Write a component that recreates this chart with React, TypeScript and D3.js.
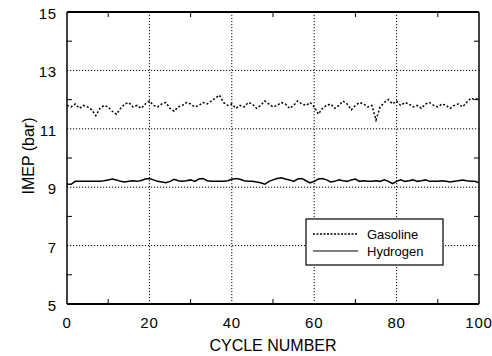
import React from "react";
import * as d3 from "d3";

// IMEP per cycle
const cycles = d3.range(0, 101);

const gasoline = [
  11.8, 11.75, 11.85, 11.7, 11.8, 11.75, 11.65, 11.45, 11.7, 11.8,
  11.75, 11.6, 11.5, 11.7, 11.85, 11.9, 11.75, 11.8, 11.7, 11.85,
  11.95, 11.8, 11.75, 11.85, 11.9, 11.7, 11.6, 11.75, 11.8, 11.9,
  11.85, 11.75, 11.8, 11.9, 11.85, 11.95, 12.05, 12.15, 11.9, 11.8,
  11.85, 11.7, 11.8, 11.75, 11.9, 11.85, 11.7, 11.8, 11.95, 11.85,
  11.75, 11.8, 11.9, 11.85, 11.7, 11.8, 11.95, 11.85, 11.8, 11.9,
  11.75, 11.5, 11.7, 11.8, 11.85, 11.7, 11.8, 11.95, 11.85, 11.65,
  11.8, 11.9, 11.85, 11.75, 11.8, 11.3, 11.75, 11.9, 12.0, 11.85,
  11.95, 11.8, 11.9, 11.85, 11.75, 11.8, 11.7, 11.85, 11.9, 11.8,
  11.75, 11.85, 11.8, 11.7, 11.8, 11.85, 11.75, 11.9, 12.05, 12.0, 12.05,
];

const hydrogen = [
  9.1, 9.1, 9.2, 9.2, 9.2, 9.2, 9.2, 9.2, 9.2, 9.22,
  9.25, 9.28, 9.25, 9.2, 9.18, 9.2, 9.22, 9.2, 9.23, 9.28,
  9.3, 9.25, 9.2, 9.18, 9.15, 9.2, 9.27, 9.22, 9.2, 9.22,
  9.25, 9.2, 9.28, 9.3, 9.22, 9.2, 9.2, 9.2, 9.2, 9.22,
  9.27, 9.3, 9.27, 9.22, 9.2, 9.2, 9.18, 9.15, 9.1, 9.2,
  9.25, 9.3, 9.32, 9.28, 9.25, 9.2, 9.28, 9.3, 9.22, 9.15,
  9.2, 9.28, 9.3, 9.25, 9.18, 9.2, 9.25, 9.22, 9.2, 9.25,
  9.28, 9.2, 9.22, 9.2, 9.2, 9.22, 9.2, 9.25, 9.2, 9.12,
  9.2, 9.25, 9.2, 9.22, 9.25, 9.2, 9.22, 9.25, 9.2, 9.2,
  9.2, 9.22, 9.2, 9.18, 9.2, 9.22, 9.25, 9.22, 9.2, 9.2, 9.15,
];

const xTicks = [0, 20, 40, 60, 80, 100];
const xMinor = [10, 30, 50, 70, 90];
const yTicks = [5, 7, 9, 11, 13, 15];
const yMinor = [6, 8, 10, 12, 14];

const W = 492;
const H = 356;
const margin = { top: 12, right: 13, bottom: 52, left: 67 };
const font = "Liberation Sans, Arial, Helvetica, sans-serif";

export default function App() {
  const x = d3.scaleLinear().domain([0, 100]).range([margin.left, W - margin.right]);
  const y = d3.scaleLinear().domain([5, 15]).range([H - margin.bottom, margin.top]);

  const line = d3
    .line<number>()
    .x((_, i) => x(cycles[i]))
    .y((d) => y(d));

  const x0 = x(0), x1 = x(100), y0 = y(5), y1 = y(15);
  const lg = { x: 306, y: 219, w: 137, h: 46 };

  return (
    <svg width={W} height={H} style={{ position: "absolute", left: 0, top: 0, background: "#fff" }}>
      {/* grid */}
      {xTicks.slice(1, -1).map((t) => (
        <line key={"gx" + t} x1={x(t)} x2={x(t)} y1={y1} y2={y0} stroke="#000" strokeWidth={1} strokeDasharray="1.2 1.8" />
      ))}
      {yTicks.slice(1, -1).map((t) => (
        <line key={"gy" + t} x1={x0} x2={x1} y1={y(t)} y2={y(t)} stroke="#000" strokeWidth={1} strokeDasharray="1.2 1.8" />
      ))}

      {/* minor ticks */}
      {xMinor.map((t) => (
        <g key={"mx" + t}>
          <line x1={x(t)} x2={x(t)} y1={y0} y2={y0 - 5} stroke="#000" />
          <line x1={x(t)} x2={x(t)} y1={y1} y2={y1 + 5} stroke="#000" />
        </g>
      ))}
      {yMinor.map((t) => (
        <g key={"my" + t}>
          <line x1={x0} x2={x0 + 5} y1={y(t)} y2={y(t)} stroke="#000" />
          <line x1={x1} x2={x1 - 5} y1={y(t)} y2={y(t)} stroke="#000" />
        </g>
      ))}

      {/* series */}
      <path d={line(hydrogen) ?? ""} fill="none" stroke="#000" strokeWidth={1.5} />
      <path d={line(gasoline) ?? ""} fill="none" stroke="#000" strokeWidth={1.5} strokeDasharray="2 2" />

      {/* frame */}
      <line x1={x0} x2={x1} y1={y1} y2={y1} stroke="#000" strokeWidth={2} />
      <line x1={x0} x2={x1} y1={y0} y2={y0} stroke="#000" strokeWidth={2} />
      <line x1={x0} x2={x0} y1={y1} y2={y0} stroke="#000" strokeWidth={1.5} />
      <line x1={x1} x2={x1} y1={y1} y2={y0} stroke="#000" strokeWidth={1.5} />

      {/* tick labels */}
      {yTicks.map((t) => (
        <text key={"ly" + t} x={x0 - 10} y={y(t) + 7} textAnchor="end" fontFamily={font} fontSize={15} letterSpacing={0.8}>
          {t}
        </text>
      ))}
      {xTicks.map((t) => (
        <text key={"lx" + t} x={x(t)} y={y0 + 24} textAnchor="middle" fontFamily={font} fontSize={15} letterSpacing={0.8}>
          {t}
        </text>
      ))}

      {/* axis titles */}
      <text x={(x0 + x1) / 2} y={351} textAnchor="middle" fontFamily={font} fontSize={16}>
        CYCLE NUMBER
      </text>
      <text transform={`translate(34,${156}) rotate(-90)`} textAnchor="middle" fontFamily={font} fontSize={16}>
        IMEP (bar)
      </text>

      {/* legend */}
      <rect x={lg.x} y={lg.y} width={lg.w} height={lg.h} fill="#fff" stroke="#000" strokeWidth={1.2} />
      <line x1={lg.x + 7} x2={lg.x + 52} y1={lg.y + 15} y2={lg.y + 15} stroke="#000" strokeWidth={1.5} strokeDasharray="2 1.5" />
      <line x1={lg.x + 7} x2={lg.x + 52} y1={lg.y + 32} y2={lg.y + 32} stroke="#000" strokeWidth={1} />
      <text x={lg.x + 61} y={lg.y + 20} fontFamily={font} fontSize={13}>
        Gasoline
      </text>
      <text x={lg.x + 61} y={lg.y + 37} fontFamily={font} fontSize={13}>
        Hydrogen
      </text>
    </svg>
  );
}
